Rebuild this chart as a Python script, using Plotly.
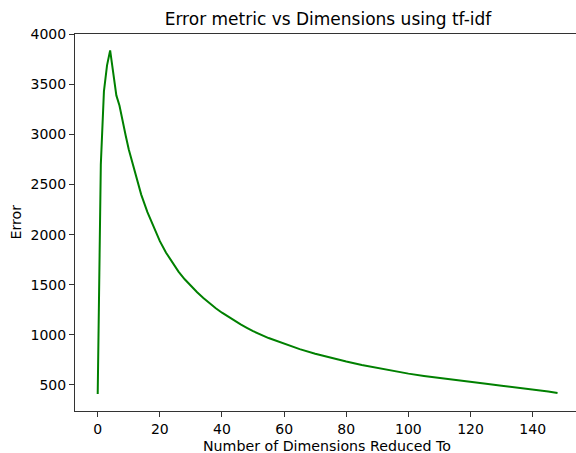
import plotly.graph_objects as go

dims = [0, 1, 2, 3, 4, 5, 6, 7, 8, 9, 10,
        12, 14, 16, 18, 20, 22, 24, 26, 28, 30,
        32, 34, 36, 38, 40, 42, 44, 46, 48, 50,
        55, 60, 65, 70, 75, 80, 85, 90, 95, 100,
        105, 110, 115, 120, 125, 130, 135, 140, 145, 148]
error = [410, 2700, 3430, 3690, 3840, 3620, 3390, 3290, 3130, 2990, 2850,
         2610, 2400, 2225, 2070, 1935, 1820, 1720, 1632, 1555, 1487,
         1425, 1368, 1315, 1266, 1221, 1180, 1141, 1104, 1070, 1037,
         968, 910, 858, 812, 771, 734, 700, 669, 640, 613,
         590, 569, 549, 530, 511, 493, 475, 456, 434, 420]

x_ticks = [0, 20, 40, 60, 80, 100, 120, 140]
y_ticks = [500, 1000, 1500, 2000, 2500, 3000, 3500, 4000]

font = "DejaVu Sans"
W, H = 576, 453
L, R, T, B = 75, 0, 34, 42
pw, ph = W - L - R, H - T - B

def px(xp):
    return (xp - L) / pw

def py(yp):
    return (H - B - yp) / ph

fig = go.Figure()
fig.add_trace(go.Scatter(x=dims, y=error, mode="lines",
                         line=dict(color="#008000", width=2),
                         showlegend=False))

fig.update_layout(
    width=W, height=H,
    margin=dict(l=L, r=R, t=T, b=B),
    paper_bgcolor="white", plot_bgcolor="white",
    font=dict(family=font, size=14, color="#000000"),
    title=dict(text="Error metric vs Dimensions using tf-idf",
               x=328 / W, xref="container", xanchor="center",
               y=1 - 19 / H, yref="container", yanchor="middle",
               font=dict(family=font, size=17, color="#000000")),
    annotations=[
        dict(text="Number of Dimensions Reduced To", xref="paper", yref="paper",
             x=px(327), y=py(446), xanchor="center", yanchor="middle",
             showarrow=False, font=dict(family=font, size=14.2, color="#000000")),
        dict(text="Error", xref="paper", yref="paper",
             x=px(15), y=py(222.5), xanchor="center", yanchor="middle",
             textangle=-90, showarrow=False,
             font=dict(family=font, size=14.2, color="#000000")),
    ],
)
fig.update_xaxes(range=[-7.31, 153.94], tickvals=x_ticks, automargin=False,
                 ticks="outside", ticklen=5, tickcolor="#333333",
                 showline=True, linecolor="#333333", linewidth=1.1, mirror=True,
                 showgrid=False, zeroline=False)
fig.update_yaxes(range=[240, 4003], tickvals=y_ticks, automargin=False,
                 ticks="outside", ticklen=5, tickcolor="#333333",
                 showline=True, linecolor="#333333", linewidth=1.1, mirror=False,
                 showgrid=False, zeroline=False)

fig.write_html("out.html", config={"displayModeBar": False},
               post_script="document.body.style.margin='0';document.body.style.overflow='hidden';")
